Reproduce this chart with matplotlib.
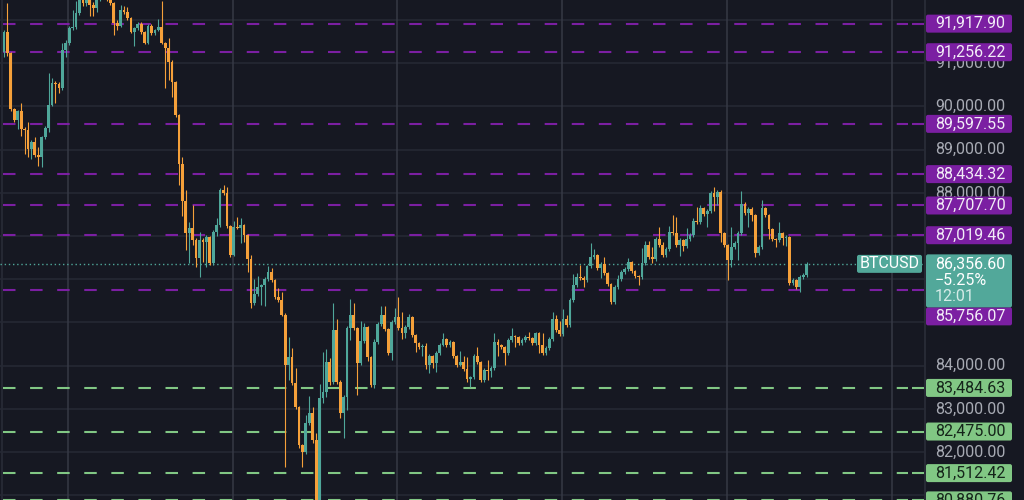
import numpy as np
import matplotlib.pyplot as plt
from matplotlib.patches import FancyBboxPatch

plt.rcParams['font.family'] = ['Roboto', 'DejaVu Sans']

# ---- data (BTCUSD 5m candles) ----
first_open = 91261
closes = [
    91724, 91238, 89942, 89687, 89895, 89479, 89455, 89016, 89178, 88877,
    88830, 89294, 89502, 90034, 90544, 90525, 90428, 91307, 91470, 91817,
    91840, 92164, 92534, 92396, 92511, 92349, 92280, 92465, 92604, 92581,
    92511, 92396, 91933, 91863, 92233, 92187, 92048, 91724, 91817, 91909,
    91724, 91470, 91863, 91701, 91770, 91840, 91470, 91354, 91030, 90567,
    89803, 88669, 87812, 87072, 87187, 86909, 86492, 86909, 86863, 86978,
    86376, 87095, 87257, 88067, 87997, 87233, 86562, 87210, 87195, 87257,
    87025, 86469, 85451, 85659, 85821, 85867, 86006, 86168, 85983, 85590,
    85520, 85173, 84016, 84200, 83598, 83043, 82163, 81999, 82673, 82904,
    82279, 80612, 83251, 83390, 84085, 83621, 84825, 83621, 82904, 83274,
    84872, 85173, 84872, 84062, 84571, 84895, 84200, 83552, 84548, 84964,
    85173, 84848, 84293, 85011, 85127, 84872, 84756, 84895, 85127, 84710,
    84525, 84432, 84455, 84016, 84223, 84062, 84293, 84478, 84617, 84478,
    84548, 84223, 84016, 84085, 83923, 83691, 83737, 84223, 84085, 83667,
    83899, 83876, 83946, 84548, 84478, 84432, 84293, 84594, 84687, 84663,
    84525, 84594, 84663, 84640, 84525, 84756, 84478, 84293, 84409, 84617,
    85081, 84825, 84733, 85081, 84941, 85520, 85867, 86052, 86029, 85983,
    86307, 86515, 86562, 86261, 86353, 86145, 85891, 85474, 85821, 86006,
    86168, 86237, 86400, 86191, 86075, 86052, 86376, 86793, 86515, 86469,
    86932, 86793, 86562, 86701, 87095, 87072, 86793, 86909, 86770, 86932,
    87025, 87349, 87326, 87650, 87511, 87580, 87997, 87905, 88021, 87072,
    86793, 86446, 86747, 86840, 87072, 87742, 87534, 87627, 87488, 86608,
    86747, 87650, 87488, 87164, 86932, 86909, 87072, 86955, 86978, 85914,
    85983, 85821, 86052, 86098, 86356.60]
highs = [
    91770, 92396, 91261, 89965, 89918, 90081, 89525, 89641, 89224, 89294,
    89062, 89317, 89548, 90775, 90659, 90590, 90567, 91470, 91539, 91863,
    92233, 92442, 92604, 92581, 92558, 92534, 92419, 92511, 92673, 92697,
    92650, 92558, 92419, 92002, 92349, 92326, 92303, 92071, 91840, 91956,
    91956, 91747, 91909, 91909, 91794, 92025, 92442, 91493, 91585, 91076,
    90590, 89826, 88830, 88067, 87326, 87719, 86955, 87095, 86955, 87025,
    87002, 87141, 87418, 88113, 88183, 88136, 87257, 87349, 87441, 87418,
    87280, 87048, 86562, 86006, 86075, 85891, 86052, 86307, 86261, 86006,
    85798, 85706, 85219, 84663, 84409, 83946, 83066, 82186, 82858, 83297,
    83043, 82441, 83575, 84316, 84386, 84177, 85451, 85081, 83667, 83321,
    84918, 85543, 85451, 84895, 85034, 84987, 84918, 84223, 84617, 85011,
    85381, 85381, 84872, 85057, 85335, 85590, 85242, 84941, 85196, 85150,
    84733, 84548, 84501, 84525, 84270, 84247, 84340, 84525, 84756, 84640,
    84594, 84571, 84247, 84340, 84223, 84200, 83760, 84270, 84432, 84108,
    83946, 84131, 83992, 84756, 84617, 84501, 84455, 84640, 84872, 84710,
    84687, 84640, 84710, 84779, 84663, 84779, 84779, 84756, 84455, 84663,
    85242, 85173, 85034, 85312, 85173, 85567, 86122, 86145, 86330, 86075,
    86330, 86839, 86701, 86585, 86400, 86515, 86168, 85914, 85867, 86098,
    86214, 86284, 86492, 86423, 86214, 86098, 86724, 86886, 86886, 86747,
    86978, 87210, 86863, 86747, 87233, 87488, 87441, 86955, 86932, 87187,
    87072, 87418, 87673, 87719, 87673, 87627, 88044, 88136, 88067, 88067,
    87095, 86816, 87210, 86886, 87118, 88044, 87789, 87673, 87673, 87511,
    86793, 87835, 87673, 87511, 87187, 86955, 87326, 87095, 87025, 87002,
    86029, 86006, 86098, 86145, 86400]
lows = [
    91145, 91169, 89895, 89641, 89479, 89317, 88899, 88830, 88784, 88830,
    88622, 88599, 89248, 89409, 90011, 90081, 90312, 90381, 91145, 91423,
    91770, 91794, 92118, 92326, 92326, 92095, 92095, 92187, 92442, 92534,
    92442, 92349, 91655, 91770, 91840, 92141, 92002, 91701, 91400, 91770,
    91678, 91446, 91446, 91655, 91655, 91747, 91446, 90428, 90613, 90219,
    89756, 88183, 87465, 86677, 86376, 86793, 86284, 86052, 86400, 86284,
    86330, 86330, 87002, 87210, 87951, 87187, 86515, 86538, 87164, 86839,
    86863, 86168, 85335, 85404, 85613, 85404, 85381, 85960, 85937, 85543,
    85474, 85150, 81654, 83667, 83552, 82997, 82094, 81654, 81954, 82626,
    82210, 80311, 80566, 83135, 83274, 83552, 83575, 83575, 82788, 82325,
    82973, 84594, 84825, 83321, 84016, 84525, 84108, 83506, 83483, 84501,
    84918, 84802, 84247, 84131, 84964, 84825, 84617, 84640, 84848, 84663,
    84316, 84386, 84223, 83923, 83830, 83946, 83853, 84247, 84455, 84432,
    84432, 84177, 83969, 83992, 83876, 83621, 83506, 83691, 84039, 83621,
    83621, 83667, 83737, 83899, 84223, 84386, 84016, 84247, 84548, 84432,
    84478, 84478, 84548, 84594, 84478, 84478, 84293, 84247, 84247, 84363,
    84571, 84779, 84687, 84687, 84895, 84895, 85474, 85821, 85983, 85821,
    85937, 86261, 86469, 86214, 86029, 86098, 85844, 85427, 85427, 85775,
    85960, 86122, 86191, 86145, 86029, 85867, 86006, 86330, 86469, 86376,
    86423, 86747, 86515, 86515, 86654, 87025, 86747, 86538, 86654, 86724,
    86886, 86978, 87280, 87280, 87465, 87210, 87534, 87580, 87719, 86863,
    86747, 85983, 86284, 86701, 86446, 87025, 87488, 87210, 87349, 86515,
    86562, 86701, 87441, 86932, 86886, 86747, 86863, 86793, 86770, 85867,
    85867, 85775, 85706, 86006, 86052]

resistance = [91917.90, 91256.22, 89597.55, 88434.32, 87707.70, 87019.46, 85756.07]
support = [83484.63, 82475.00, 81512.42, 80880.76]
axis_ticks = list(range(81000, 93000, 1000))
symbol = 'BTCUSD'
change_txt = '\u22125.25%'
countdown = '12:01'

# ---- style ----
BG = '#161822'
GRID = '#252833'
VGRID = '#363945'
UP = '#4fa79a'
DOWN = '#f5a03a'
PURPLE = '#7b1fa2'
GREEN = '#81c784'
TEAL_BOX = '#52a89a'
AXIS_TXT = '#a7aab3'
FS = 11.5

W, H = 1024, 500
PX = 3.43                     # pixels per candle
SEP = 924                     # price-scale separator (px)
YMIN, YMAX = 80890, 92465
USD_PX = (YMAX - YMIN) / H    # dollars per pixel


def xd(px):
    return (px - 4) / PX


closes = np.array(closes, dtype=float)
highs = np.array(highs, dtype=float)
lows = np.array(lows, dtype=float)
opens = np.concatenate([[first_open], closes[:-1]])
idx = np.arange(len(closes))
up = closes >= opens
cols = np.where(up, UP, DOWN)
last = closes[-1]

fig = plt.figure(figsize=(W / 100, H / 100), dpi=100, facecolor=BG)
ax = fig.add_axes([0, 0, SEP / W, 1])
ax.set_facecolor(BG)
ax.set_xlim(xd(0), xd(SEP))
ax.set_ylim(YMIN, YMAX)
ax.axis('off')

# grid
ax.hlines(axis_ticks, xd(0), xd(SEP), color=GRID, lw=1.2, zorder=0)
for gx in [68, 233, 397, 562, 727, 892]:
    ax.axvline(xd(gx), color=VGRID, lw=1.1, zorder=0)
ax.axvline(xd(2.5), color=GRID, lw=1.5, zorder=0)

# level lines
for lv in resistance:
    ax.hlines(lv, xd(3), xd(908), color=PURPLE, lw=1.5, linestyles=(0, (6, 7)), zorder=1)
    ax.hlines(lv, xd(912), xd(SEP), color=PURPLE, lw=1.5, zorder=1)
for lv in support:
    ax.hlines(lv, xd(3), xd(908), color=GREEN, lw=1.5, linestyles=(0, (6, 7)), zorder=1)
    ax.hlines(lv, xd(912), xd(SEP), color=GREEN, lw=1.5, zorder=1)

# candles
ax.vlines(idx, lows, highs, color=cols, lw=0.8, zorder=3)
body_bot = np.minimum(opens, closes)
body_h = np.maximum(np.abs(closes - opens), USD_PX)
ax.bar(idx, body_h, bottom=body_bot, width=0.8, color=cols, linewidth=0, zorder=4)

# last price line + symbol tag
ax.hlines(last, xd(0), xd(SEP), color=UP, lw=1, linestyles=(0, (1, 2)), zorder=2)
asp = USD_PX * PX
tag = FancyBboxPatch((xd(857), last - 9 * USD_PX), xd(922) - xd(857), 18 * USD_PX,
                     boxstyle='round,pad=0,rounding_size=0.6', mutation_aspect=asp,
                     fc=TEAL_BOX, ec='none', zorder=6)
ax.add_patch(tag)
ax.text((xd(857) + xd(922)) / 2, last, symbol, color='white', fontsize=FS,
        ha='center', va='center', zorder=7)

# ---- price scale ----
ax2 = fig.add_axes([SEP / W, 0, (W - SEP) / W, 1])
ax2.set_facecolor(BG)
ax2.set_xlim(0, W - SEP)
ax2.set_ylim(YMIN, YMAX)
ax2.axis('off')
ax2.axvline(0.5, color='#2b2e3a', lw=1.2)

box_h = 18 * USD_PX
price_top = last + 9.5 * USD_PX
price_bot = last - 43.5 * USD_PX


def label_y(lv):
    if price_bot - box_h / 2 < lv < price_top + box_h / 2:
        return price_bot - box_h / 2
    return lv


label_pos = [label_y(lv) for lv in resistance] + list(support)

# axis ticks, hidden where a label box sits right on top of them
for t in axis_ticks:
    if price_bot < t < price_top:
        continue
    if min(abs(t - p) for p in label_pos) < 10 * USD_PX:
        continue
    ax2.text(11, t, f'{t:,.2f}', color=AXIS_TXT, fontsize=FS, ha='left', va='center', zorder=1)


def label(y, txt, fc, tc):
    p = FancyBboxPatch((2, y - box_h / 2), 86, box_h, boxstyle='round,pad=0,rounding_size=2',
                       mutation_aspect=USD_PX, fc=fc, ec='none', zorder=3)
    ax2.add_patch(p)
    ax2.text(11, y, txt, color=tc, fontsize=FS, ha='left', va='center', zorder=4)


for lv in resistance:
    label(label_y(lv), f'{lv:,.2f}', PURPLE, '#f2ecf7')
for lv in support:
    label(lv, f'{lv:,.2f}', GREEN, '#15251a')

pb = FancyBboxPatch((2, price_bot), 86, price_top - price_bot,
                    boxstyle='round,pad=0,rounding_size=2', mutation_aspect=USD_PX,
                    fc=TEAL_BOX, ec='none', zorder=5)
ax2.add_patch(pb)
ax2.text(11, last - 0.7 * USD_PX, f'{last:,.2f}', color='white', fontsize=FS,
         ha='left', va='center', zorder=6)
ax2.text(11, last - 16.7 * USD_PX, change_txt, color='white', fontsize=FS,
         ha='left', va='center', zorder=6)
ax2.text(11, last - 32.7 * USD_PX, countdown, color='#d6ece8', fontsize=FS,
         ha='left', va='center', zorder=6)

fig.savefig('out.png', dpi=100, facecolor=BG)
